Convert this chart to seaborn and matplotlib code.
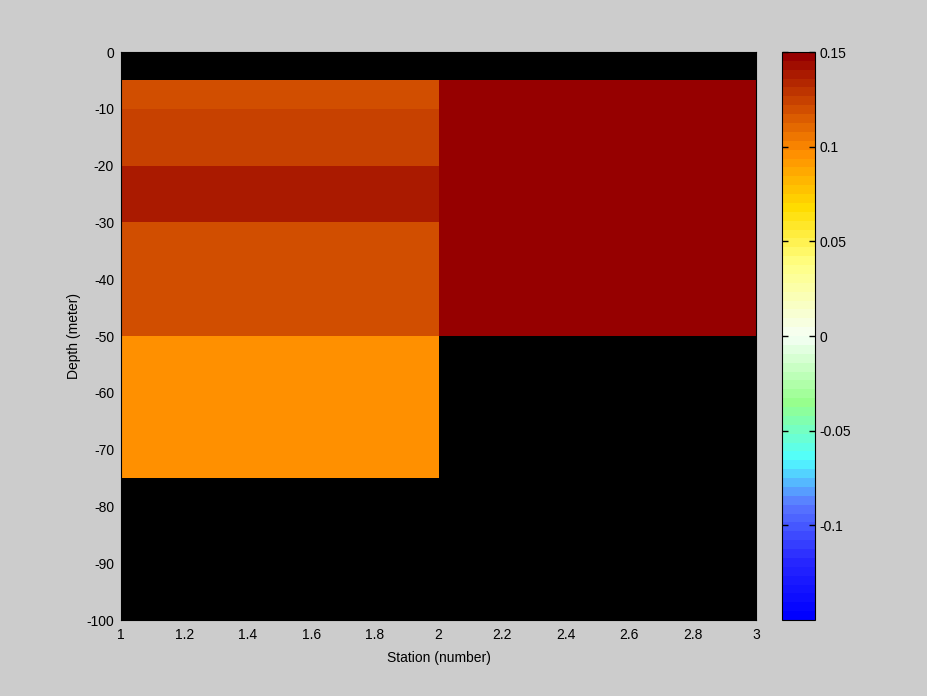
import numpy as np
import matplotlib
matplotlib.use("Agg")
import matplotlib.pyplot as plt
from matplotlib.colors import LinearSegmentedColormap
import seaborn as sns

# ---- data ----
stations = [1, 2, 3]                                   # cell edges (station number)
depths = [0, -5, -10, -20, -30, -50, -75, -100]        # cell edges (meter)
station1_values = [np.nan, 0.121, 0.126, 0.137, 0.121, 0.098, np.nan]
station2_values = [np.nan, 0.150, 0.150, 0.150, 0.150, np.nan, np.nan]
cbar_ticks = [-0.1, -0.05, 0, 0.05, 0.1, 0.15]
cbar_ticklabels = ["-0.1", "-0.05", "0", "0.05", "0.1", "0.15"]
xticks = [1, 1.2, 1.4, 1.6, 1.8, 2, 2.2, 2.4, 2.6, 2.8, 3]
xticklabels = ["1", "1.2", "1.4", "1.6", "1.8", "2", "2.2", "2.4", "2.6", "2.8", "3"]
yticks = [0, -10, -20, -30, -40, -50, -60, -70, -80, -90, -100]
yticklabels = ["0", "-10", "-20", "-30", "-40", "-50", "-60", "-70", "-80", "-90", "-100"]
vmin, vmax = -0.15, 0.15

sns.set_theme(style="white")
bg = "#cccccc"
plt.rcParams["font.family"] = ["Liberation Sans", "DejaVu Sans"]
plt.rcParams.update({
    "figure.facecolor": bg,
    "axes.facecolor": "black",
    "axes.edgecolor": "black",
    "axes.linewidth": 0.8,
    "axes.axisbelow": False,
    "xtick.direction": "in",
    "ytick.direction": "in",
    "xtick.color": "black",
    "ytick.color": "black",
    "text.color": "black",
    "axes.labelcolor": "black",
    "font.size": 10,
})

anchors = [
    (0.00, (0, 0, 255)),
    (0.10, (40, 40, 255)),
    (0.20, (90, 120, 255)),
    (0.28, (80, 255, 255)),
    (0.38, (150, 255, 140)),
    (0.50, (245, 255, 245)),
    (0.63, (255, 255, 130)),
    (0.73, (255, 220, 0)),
    (0.83, (255, 140, 0)),
    (1.00, (150, 0, 0)),
]
cmap = LinearSegmentedColormap.from_list(
    "custom", [(p, tuple(c / 255 for c in col)) for p, col in anchors], N=64)
cmap.set_bad("black")

C = np.ma.masked_invalid(np.column_stack([station1_values, station2_values]))

fig = plt.figure(figsize=(9.28, 6.96), dpi=100)
ax = fig.add_axes([121 / 928, 1 - 620 / 696, (756 - 121) / 928, (620 - 52) / 696])
cax = fig.add_axes([782 / 928, 1 - 620 / 696, (815 - 782) / 928, (620 - 52) / 696])

mesh = ax.pcolormesh(stations, depths, C, cmap=cmap, vmin=vmin, vmax=vmax, shading="flat")
ax.set_xlim(1, 3)
ax.set_ylim(-100, 0)
ax.set_xticks(xticks)
ax.set_xticklabels(xticklabels)
ax.set_yticks(yticks)
ax.set_yticklabels(yticklabels)
ax.tick_params(length=4, width=0.8, labelsize=10)
ax.tick_params(axis="x", pad=6)
ax.tick_params(axis="y", pad=5)
ax.set_axisbelow(False)
ax.set_xlabel("Station (number)", fontsize=10)
ax.set_ylabel("Depth (meter)", fontsize=10)
ax.xaxis.set_label_coords(0.5, -0.055)
ax.yaxis.set_label_coords(-0.063, 0.5)
for s in ax.spines.values():
    s.set_visible(True)
    s.set_color("black")

cb = fig.colorbar(mesh, cax=cax)
cb.set_ticks(cbar_ticks)
cb.set_ticklabels(cbar_ticklabels)
cax.set_axisbelow(False)
cax.yaxis.set_ticks_position("both")
cax.tick_params(which="major", direction="in", length=4, width=1.0, left=True, right=True,
                labelleft=False, labelright=True, labelsize=10, pad=3, color="black")
cax.minorticks_off()
cb.outline.set_edgecolor("black")
cb.outline.set_linewidth(0.8)

fig.savefig("out.png", dpi=100, facecolor=bg)
